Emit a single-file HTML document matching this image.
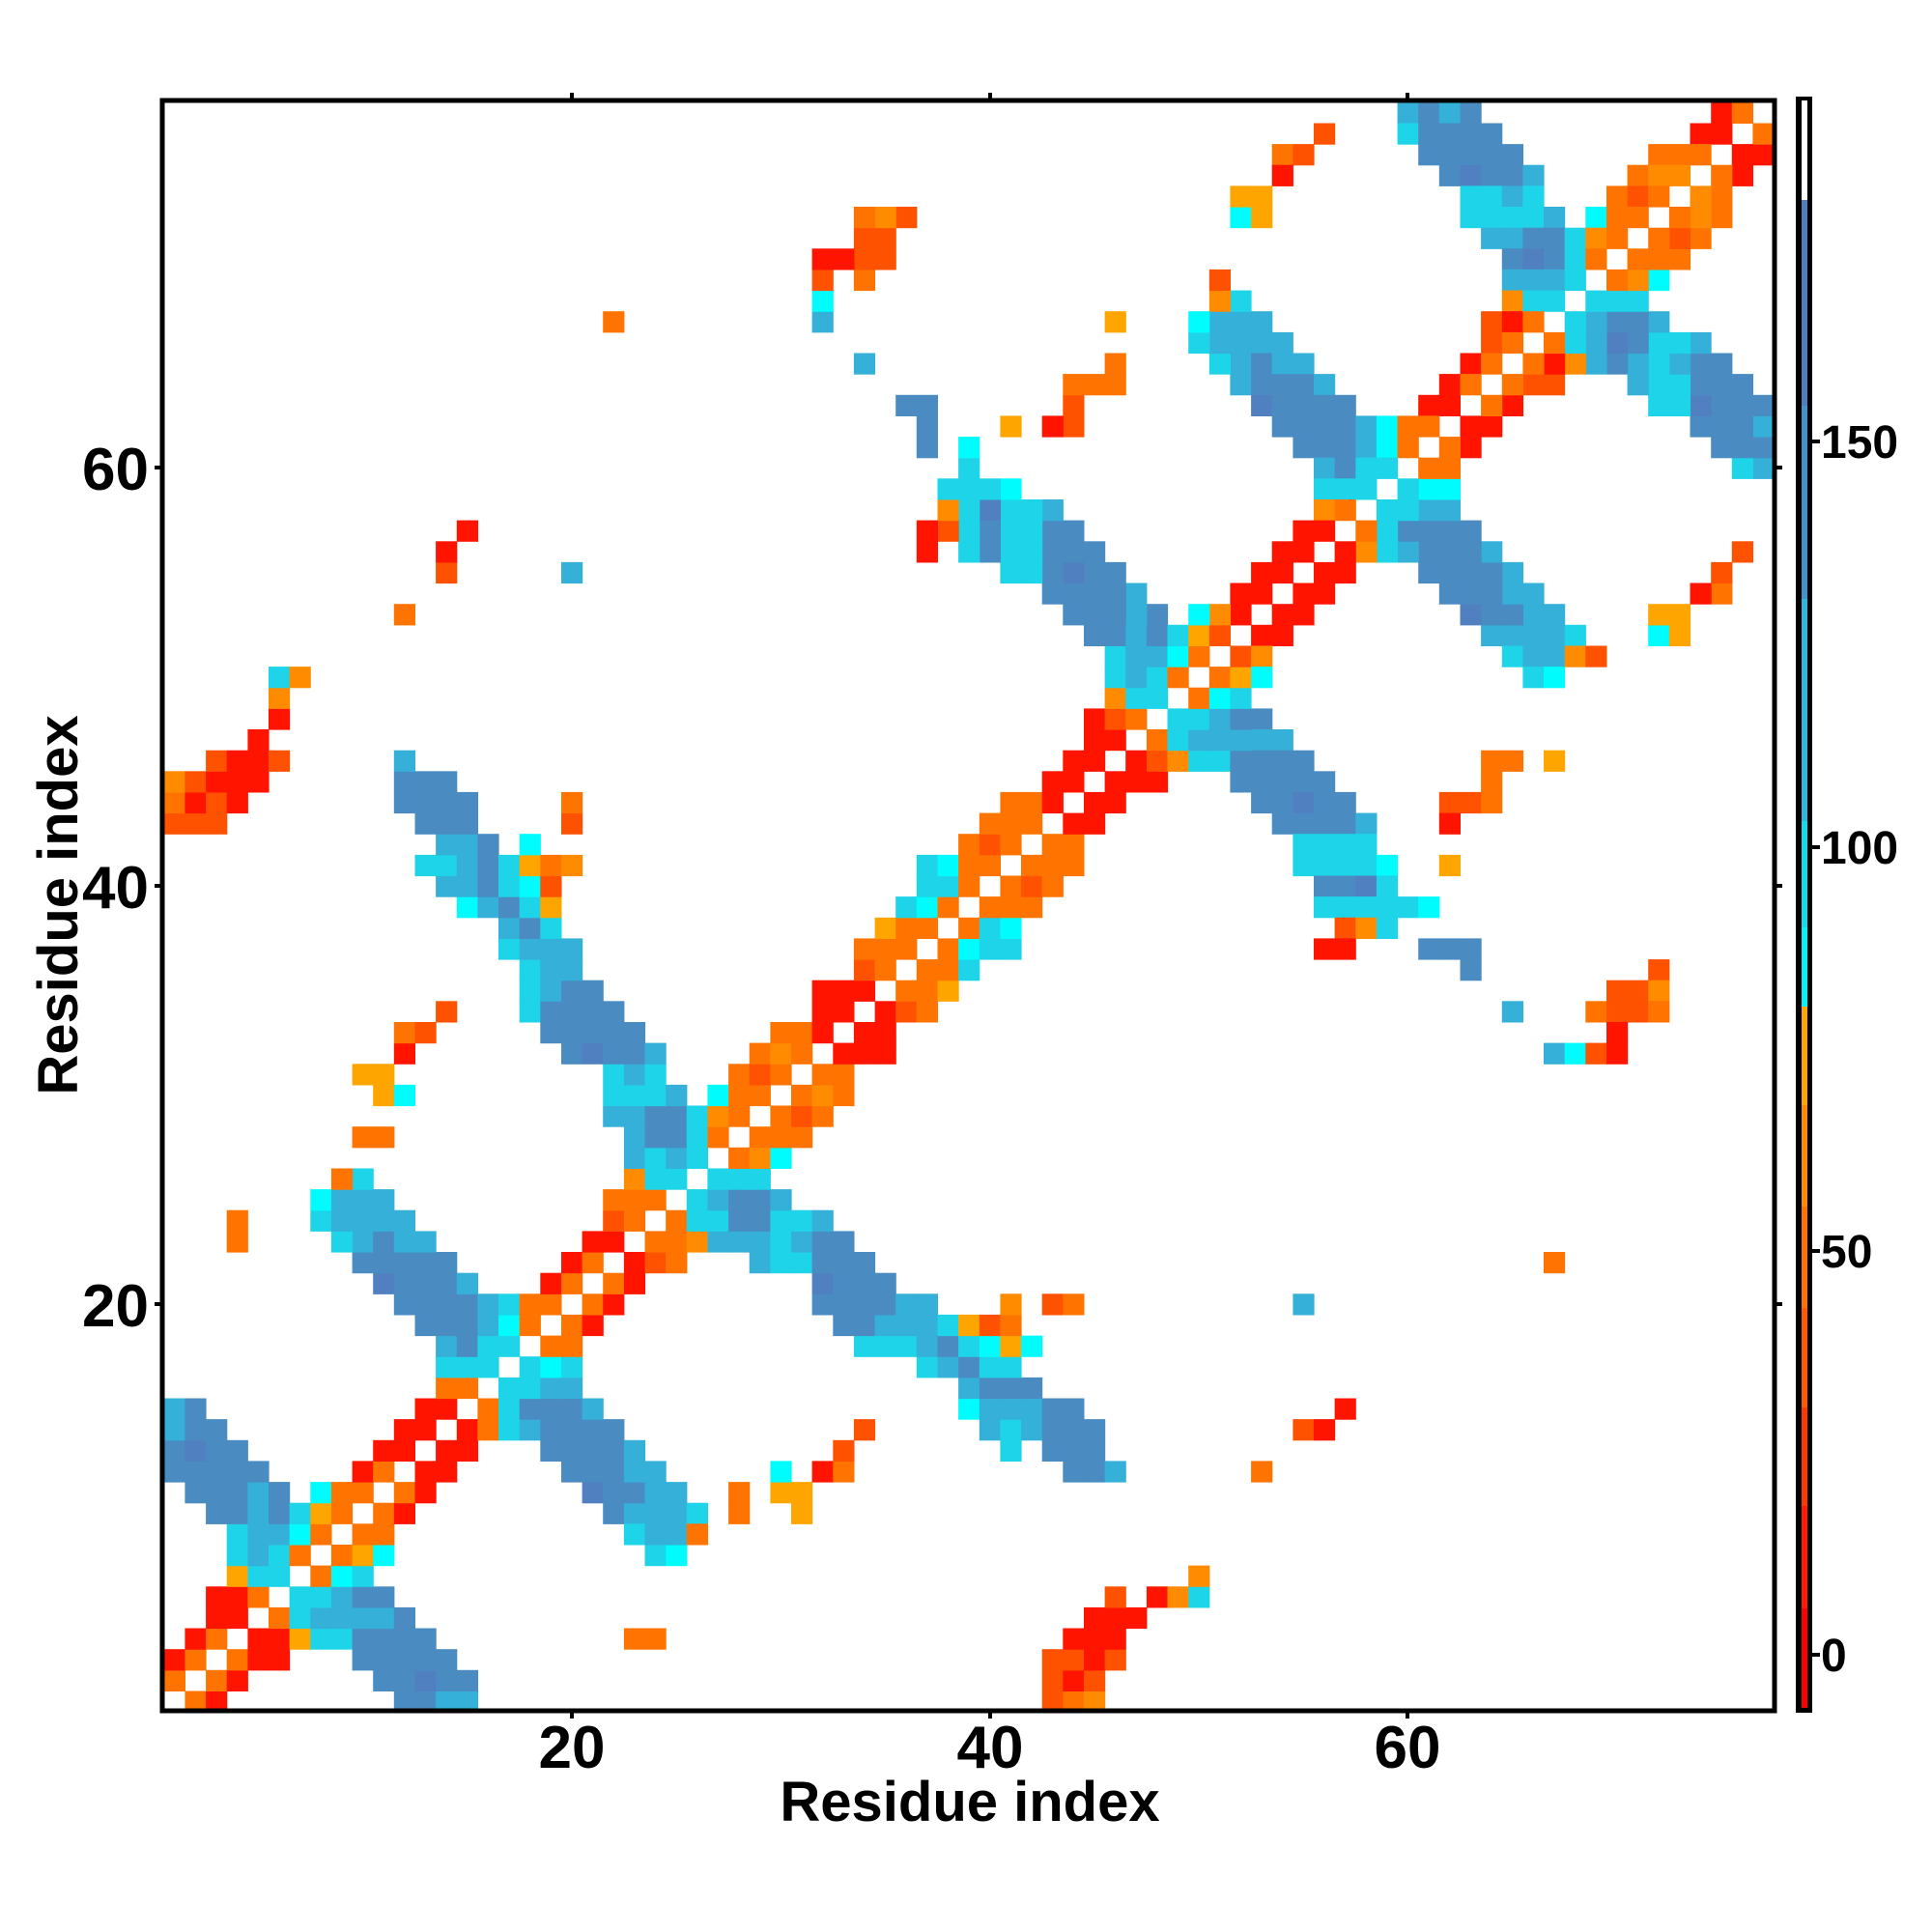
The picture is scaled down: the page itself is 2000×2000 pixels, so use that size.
<!DOCTYPE html>
<html><head><meta charset="utf-8">
<style>
html,body{margin:0;padding:0;background:#fff;}
svg{display:block;}
text{font-family:"Liberation Sans",sans-serif;font-weight:bold;fill:#000;}
</style></head>
<body>
<svg id="s" xmlns="http://www.w3.org/2000/svg" width="2000" height="2000" viewBox="0 0 2000 2000">
<rect width="2000" height="2000" fill="#fff"/>
<g id="cells"></g>
<rect x="168" y="104" width="1669" height="1667" fill="none" stroke="#000" stroke-width="5"/>
<!-- ticks -->
<g stroke="#000" stroke-width="4">
<line x1="592" y1="96" x2="592" y2="104"/><line x1="1025" y1="96" x2="1025" y2="104"/><line x1="1457" y1="96" x2="1457" y2="104"/>
<line x1="592" y1="1771" x2="592" y2="1779"/><line x1="1025" y1="1771" x2="1025" y2="1779"/><line x1="1457" y1="1771" x2="1457" y2="1779"/>
<line x1="160" y1="484" x2="168" y2="484"/><line x1="160" y1="917" x2="168" y2="917"/><line x1="160" y1="1350" x2="168" y2="1350"/>
<line x1="1837" y1="484" x2="1845" y2="484"/><line x1="1837" y1="917" x2="1845" y2="917"/><line x1="1837" y1="1350" x2="1845" y2="1350"/>
</g>
<g font-size="62" text-anchor="middle">
<text x="592" y="1830">20</text><text x="1025" y="1830">40</text><text x="1457" y="1830">60</text>
</g>
<g font-size="62" text-anchor="end">
<text x="154" y="507">60</text><text x="154" y="940">40</text><text x="154" y="1373">20</text>
</g>
<text x="1004" y="1885" font-size="58" text-anchor="middle">Residue index</text>
<text transform="translate(80,937) rotate(-90)" font-size="58" text-anchor="middle">Residue index</text>
<!-- colorbar -->
<rect x="1859" y="100" width="17" height="1673" fill="#000"/>
<g id="cb"></g>
<g stroke="#000" stroke-width="4">
<line x1="1876" y1="1713" x2="1884" y2="1713"/><line x1="1876" y1="1295" x2="1884" y2="1295"/>
<line x1="1876" y1="877" x2="1884" y2="877"/><line x1="1876" y1="457" x2="1884" y2="457"/>
</g>
<g font-size="48">
<text x="1885" y="1730">0</text><text x="1885" y="1312">50</text><text x="1885" y="894">100</text><text x="1885" y="474">150</text>
</g>
</svg>
<script>
var COL={R:"#ff1400",r:"#ff0000",E:"#ff5200",O:"#ff7400",a:"#ff8c00",A:"#ffa500",C:"#1ed4e8",Q:"#00fcfc",B:"#35b0d8",D:"#4a8cc2",P:"#5080c0"};
var D=[
[1,2,"OR"],[1,12,"DDBB"],
[2,1,"O.OR"],[2,11,"DDPDD"],
[3,1,"RO.ORE"],[3,10,"DDDDD"],
[4,2,"RO.REACC"],[4,10,"DDDD"],
[5,3,"RR.OCBBBBD"],
[6,3,"RRO.CCBDD"],
[7,4,"ACC.OQC"],
[8,4,"CBCO.OAQ"],
[9,4,"CBBQO.OO"],
[10,3,"DDBDCAO.OR"],[10,22,"DBBBC"],
[11,2,"DDDBD.QOO.OR"],[11,21,"PDDBB"],
[12,1,"DDDDD"],[12,10,"RO.RR"],[12,20,"DDDBB"],
[13,1,"DPDD"],[13,11,"RR.RR"],[13,19,"DDDDB"],
[14,1,"BDD"],[14,12,"RR.ROCBDDDD"],
[15,1,"BD"],[15,13,"RR.OCDDDB"],
[16,14,"OO.CCBB"],
[17,14,"CCC.CQC"],
[18,14,"BDCC.OO"],
[19,13,"DDDBQO.OR"],
[20,12,"DDDDBCOO.OR"],
[21,11,"PDDDB"],[21,19,"RO.OR"],
[22,10,"DDDDD"],[22,20,"RO.RRO"],
[23,4,"O"],[23,9,"CBDBB"],[23,21,"RR.OEa"],
[24,4,"O"],[24,8,"CBBBB"],[24,22,"EO.OC"],
[25,8,"QBBB"],[25,22,"OOO.C"],
[26,9,"AC"],[26,23,"ACB"],
// zoom2
[1,43,"EOa"],[2,43,"ERE"],[3,43,"EERE"],[4,44,"RRR"],[5,45,"RRR"],[6,46,"E.RaC"],[7,50,"a"],
[9,26,"O"],[10,26,"C.O..A"],[11,28,"O.AA"],[12,30,"Q.RO"],[12,44,"DDB"],
[13,33,"E"],[13,41,"C.DDD"],[14,34,"E"],[14,40,"BCBDDD"],[15,39,"QBBBDD"],[16,39,"BDDD"],
[17,37,"CBDCC"],[18,34,"CCCBDCQAQ"],[19,33,"DDBBBCAEO"],[20,32,"DDDDBB...a.EO"],
[21,32,"PDDD"],[22,29,"BCCDDD"],[23,26,"aBBBCBDD"],[24,26,"CCDDCCB"],[25,26,"CBDDB"],[26,27,"CCC"],
// zoom3
[22,67,"O"],[20,55,"B"],[15,57,"R"],[14,55,"ER"],[12,53,"O"],
// zoom4
[27,26,"C.OaQ"],[28,26,"CO.OOO"],[29,26,"CaO.OEO"],[30,27,"QOO.OAA"],[31,28,"OEO.OO"],
[32,29,"OaO.RRR"],[33,30,"OOR.RR"],[34,32,"RR.REO"],[35,32,"RRR.OOA"],[36,34,"EO.OOC"],
[37,34,"OOO.OQCC"],[38,35,"AOO.OCQ"],[39,36,"CQO.OOO"],[40,37,"CCO.OEO"],[41,37,"CQOO.OOO"],
[42,39,"OEO.OO"],[43,40,"OOO.RR"],[44,41,"OOR.RR"],[45,43,"RR.RRR"],[46,44,"RR.REaCCD"],
[47,45,"RR.OCBBB"],[48,45,"REO.CCBD"],[49,46,"aCC.OQC"],[50,46,"CBCO.OA"],[51,46,"CBBQO.O"],
[52,45,"DDBDCAO"],
// zoom5
[52,53,"RR"],[52,64,"BBBBC"],[52,72,"QA"],[51,52,"Ea"],[51,65,"CBBaE"],[50,52,"AQ"],[50,66,"CQ"],
[49,52,"C"],[48,52,"DD"],[47,52,"BBB"],[46,52,"DDDD"],[46,64,"OO.A"],[45,52,"DDDDD"],[45,64,"O"],
[44,53,"DDPDD"],[44,62,"EEO"],[43,54,"DDDDB"],[43,62,"R"],[42,55,"CCCC"],[41,55,"CCCCQ"],[41,62,"A"],
[40,56,"DDPC"],[39,56,"CCCCCQ"],[38,57,"EaC"],[37,56,"RR"],[37,61,"DDD"],[36,63,"D"],[36,72,"E"],
[35,70,"EEa"],[34,65,"B"],[34,69,"OEEO"],[33,70,"R"],[32,67,"BQER"],
// zoom6
[77,60,"BDBD"],[77,75,"RO"],[76,56,"E"],[76,60,"CDDDD"],[76,74,"RR.O"],
[75,54,"OE"],[75,61,"DDDDD"],[75,72,"OOO.RR"],[74,54,"R"],[74,62,"DDDDB"],[74,71,"Oaa.OR"],
[73,52,"AA"],[73,63,"CCBB"],[73,70,"OEO.aO"],[72,52,"QA"],[72,63,"CCCCB.COO.OaO"],
[71,64,"BBDDQaO.OEO"],[70,65,"DPDCO.OOO"],[69,65,"BBBC.OaQ"],[68,52,"C"],[68,65,"ACC.CCC"],
[67,52,"BB"],[67,64,"ERO.CBDDB"],[66,52,"BBB"],[66,64,"EO.OCBPDCCB"],[65,52,"BDBB"],[65,63,"EO.ORaBDBCBDD"],
[64,52,"BDDDB"],[64,62,"RO.OEE...BCCDDD"],[63,53,"PDDDD"],[63,61,"RR.OR"],[63,72,"CCPDDD"],
[62,54,"DDDDBQOO.RR"],[62,74,"DDDB"],[61,55,"DDDBQO.OR"],[61,75,"DDD"],[60,56,"BDCC.OO"],[60,76,"CB"],
[59,56,"CCC.CQQ"],[58,56,"aO.CCBB"],[57,55,"RR.OCDDDD"],[56,54,"RR.RaCBDDDB"],[56,76,"E"],
[55,53,"RR.RR...DDDDB"],[55,75,"E"],[54,52,"RR.RR"],[54,62,"DDDBB"],[54,74,"RO"],
[53,52,"R.RR"],[53,63,"PDDBB"],[53,72,"AA"]
];
var cells={};
D.forEach(function(e){var r=e[0],c0=e[1],s=e[2];for(var i=0;i<s.length;i++){var ch=s[i];if(ch==='.'||ch===' ')continue;var c=c0+i;cells[c+","+r]=ch;cells[r+","+c]=ch;}});
var g=document.getElementById("cells"),NS="http://www.w3.org/2000/svg",W=21.64,html="";
for(var k in cells){var p=k.split(","),c=+p[0],r=+p[1];if(c<1||c>77||r<1||r>77)continue;
var x=169.8+(c-1)*W,y=1772.1-r*W;
html+='<rect x="'+x.toFixed(1)+'" y="'+y.toFixed(1)+'" width="22.2" height="22.2" fill="'+COL[cells[k]]+'"/>';}
g.innerHTML=html;
var seg=[[104,207,"#ffffff"],[207,420,"#4d7fc0"],[420,620,"#3f94cc"],[620,850,"#2cb8dd"],[850,960,"#14d8ec"],[960,1042,"#00f5f8"],[1042,1144,"#ffa500"],[1144,1249,"#ff8c00"],[1249,1354,"#ff7200"],[1354,1457,"#ff5a00"],[1457,1559,"#ff3800"],[1559,1665,"#ff1a00"],[1665,1768,"#ff0000"]];
var cb="";seg.forEach(function(s){cb+='<rect x="1865" y="'+s[0]+'" width="6" height="'+(s[1]-s[0])+'" fill="'+s[2]+'"/>';});
document.getElementById("cb").innerHTML=cb;
</script>
</body></html>
